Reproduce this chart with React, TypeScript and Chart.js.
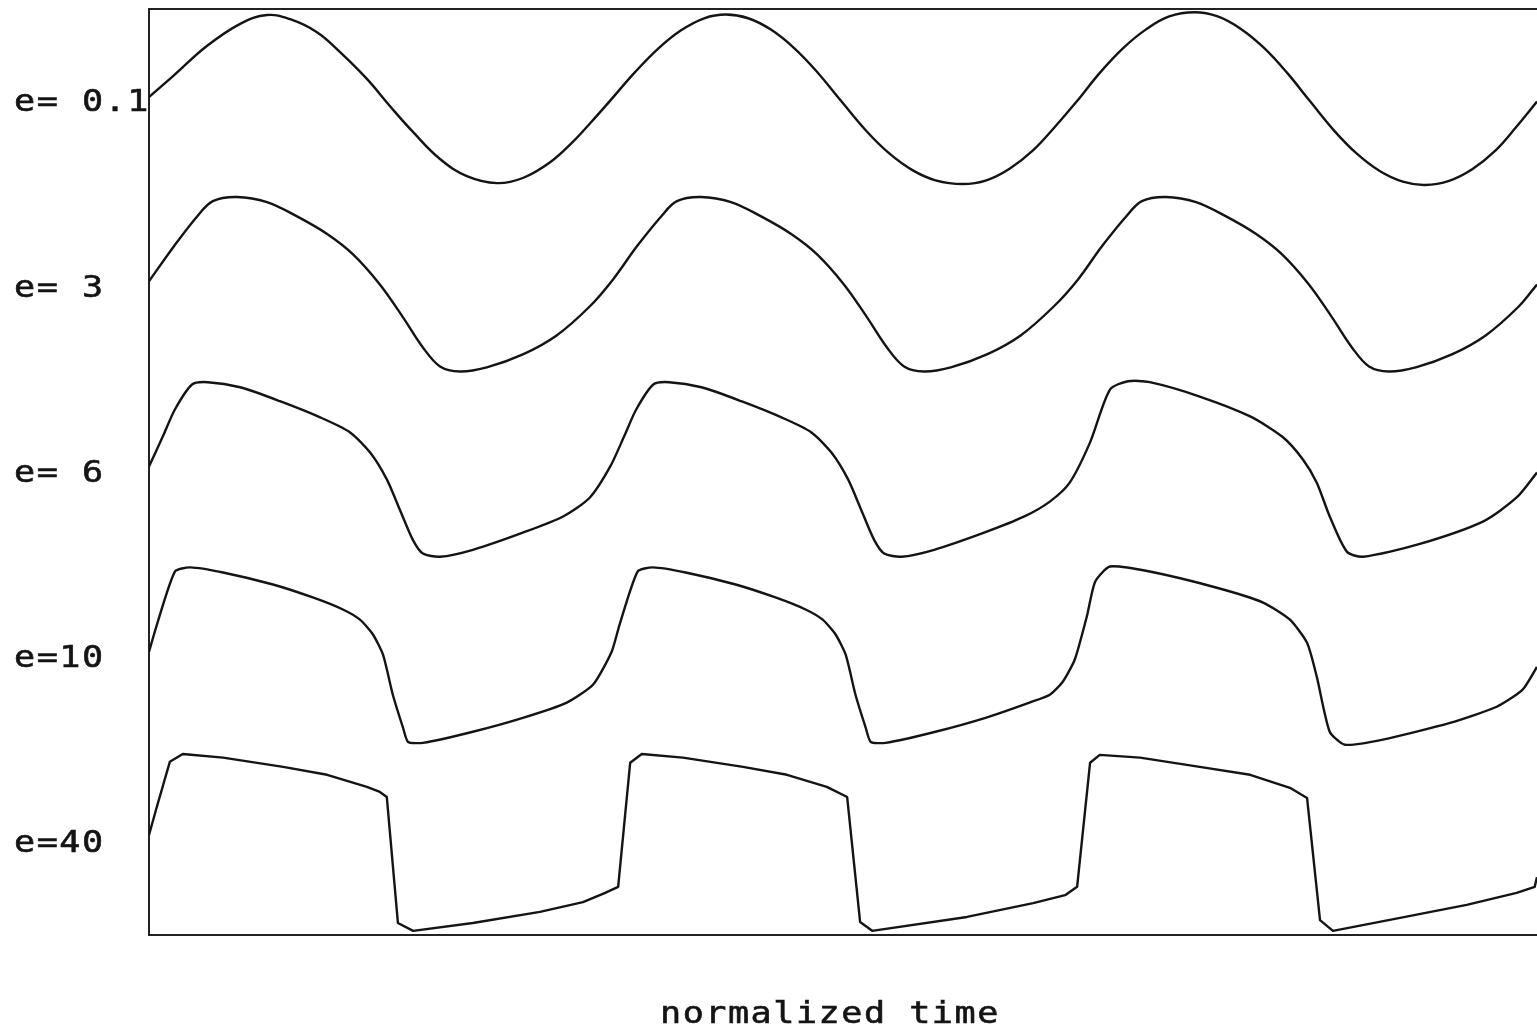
import React, { useEffect, useRef } from "react";
import { Chart, registerables } from "chart.js";

Chart.register(...registerables);

// Curve labels (left side) and the x-axis title
const seriesLabels = ["e= 0.1", "e= 3", "e= 6", "e=10", "e=40"];
const xAxisTitle = "normalized time";

// Vertical offset of each trace (traces are stacked on one plot)
const traceOffsets = [18, 14, 10, 6, 2];

// Axis ranges (normalized time, stacked amplitude)
const timeRange = [0, 30];
const amplitudeRange = [0, 20];

// Each trace: [normalized time, amplitude]
const traceE01: [number, number][] = [
  [0, 0.1], [0.52, 0.55], [1.25, 1.2], [1.97, 1.68], [2.55, 1.87], [3.05, 1.78], [3.63, 1.5], [4.13, 1.07],
  [4.71, 0.49], [5.21, -0.1], [5.71, -0.66], [6.29, -1.24], [6.87, -1.61], [7.52, -1.76], [8.08, -1.65],
  [8.67, -1.31], [9.16, -0.87], [9.55, -0.45],
  [9.95, 0.0], [10.5, 0.63], [11.0, 1.14], [11.5, 1.54], [12.0, 1.8], [12.47, 1.88], [12.95, 1.8], [13.45, 1.55],
  [13.95, 1.15], [14.45, 0.63], [14.97, 0.0], [15.5, -0.63], [16.0, -1.12], [16.5, -1.48], [17.0, -1.7],
  [17.59, -1.78], [18.1, -1.7], [18.6, -1.45], [19.1, -1.06], [19.55, -0.58],
  [20.05, 0.0], [20.55, 0.62], [21.05, 1.15], [21.55, 1.56], [22.05, 1.84], [22.6, 1.93], [23.1, 1.84], [23.6, 1.57],
  [24.1, 1.16], [24.6, 0.62], [25.1, 0.0], [25.6, -0.61], [26.1, -1.12], [26.6, -1.5], [27.1, -1.73],
  [27.58, -1.8], [28.1, -1.71], [28.6, -1.46], [29.1, -1.06], [29.55, -0.55], [30, 0.0],
];

const traceE3: [number, number][] = [
  [0, 0.12], [0.52, 0.85], [1.04, 1.52], [1.38, 1.85], [1.9, 1.94], [2.55, 1.83], [3.2, 1.52], [3.85, 1.14],
  [4.41, 0.7], [4.99, 0.05], [5.49, -0.66], [5.92, -1.31], [6.29, -1.72], [6.72, -1.83], [7.3, -1.74],
  [8.08, -1.46], [8.81, -1.05], [9.53, -0.42],
  [10.03, 0.16], [10.55, 0.88], [11.07, 1.52], [11.41, 1.85], [11.93, 1.94], [12.58, 1.83], [13.23, 1.52], [13.88, 1.14],
  [14.44, 0.7], [15.02, 0.05], [15.52, -0.66], [15.95, -1.31], [16.32, -1.72], [16.75, -1.83], [17.33, -1.74],
  [18.11, -1.46], [18.84, -1.05], [19.56, -0.42],
  [20.08, 0.16], [20.6, 0.88], [21.12, 1.52], [21.46, 1.85], [21.98, 1.94], [22.63, 1.83], [23.28, 1.52], [23.93, 1.14],
  [24.49, 0.7], [25.07, 0.05], [25.57, -0.66], [26.0, -1.31], [26.37, -1.72], [26.8, -1.83], [27.38, -1.74],
  [28.16, -1.46], [28.89, -1.05], [29.61, -0.42], [30, 0.05],
];

const traceE6: [number, number][] = [
  [0, 0.12], [0.3, 0.77], [0.56, 1.35], [0.93, 1.89], [1.27, 1.94], [1.97, 1.83], [2.83, 1.53], [3.7, 1.18],
  [4.34, 0.86], [4.78, 0.42], [5.14, -0.16], [5.42, -0.81], [5.7, -1.46], [5.92, -1.76], [6.29, -1.83],
  [7.0, -1.68], [8.08, -1.31], [8.95, -0.96], [9.53, -0.55],
  [9.97, 0.12], [10.27, 0.77], [10.53, 1.35], [10.9, 1.89], [11.24, 1.94], [11.94, 1.83], [12.8, 1.53], [13.67, 1.18],
  [14.31, 0.86], [14.75, 0.42], [15.11, -0.16], [15.39, -0.81], [15.67, -1.46], [15.89, -1.76], [16.26, -1.83],
  [16.97, -1.68], [18.05, -1.31], [18.92, -0.96],
  [19.47, -0.64], [19.9, -0.23], [20.34, 0.64], [20.77, 1.78], [21.16, 1.96], [21.63, 1.94], [22.71, 1.63],
  [23.8, 1.2], [24.51, 0.75], [24.94, 0.27], [25.24, -0.23], [25.52, -0.96], [25.89, -1.72], [26.24, -1.83],
  [27.41, -1.57], [28.83, -1.07], [29.56, -0.55], [30, -0.01],
];

const traceE10: [number, number][] = [
  [0, 0.12], [0.17, 0.7], [0.56, 1.85], [0.89, 1.94], [1.6, 1.83], [2.68, 1.57], [3.54, 1.29], [4.19, 1.03],
  [4.56, 0.81], [4.84, 0.49], [5.06, 0.05], [5.27, -0.81], [5.49, -1.52], [5.6, -1.83], [5.92, -1.85],
  [7.0, -1.61], [8.08, -1.31], [9.03, -0.98], [9.6, -0.59],
  [10.0, 0.12], [10.17, 0.7], [10.56, 1.85], [10.89, 1.94], [11.6, 1.83], [12.68, 1.57], [13.54, 1.29], [14.19, 1.03],
  [14.56, 0.81], [14.84, 0.49], [15.06, 0.05], [15.27, -0.81], [15.49, -1.52], [15.6, -1.83], [15.92, -1.85],
  [17.0, -1.61], [18.08, -1.31], [19.03, -0.98],
  [19.47, -0.81], [19.75, -0.53], [20.01, -0.05], [20.27, 0.88], [20.45, 1.63], [20.77, 1.96], [21.63, 1.85],
  [23.08, 1.5], [24.08, 1.18], [24.66, 0.81], [25.03, 0.31], [25.24, -0.42], [25.52, -1.61], [25.85, -1.89],
  [26.67, -1.78], [28.12, -1.42], [29.13, -1.07], [29.69, -0.7], [30, -0.21],
];

const traceE40: [number, number][] = [
  [0, 0.16], [0.17, 0.77], [0.45, 1.74], [0.73, 1.91], [1.6, 1.83], [2.9, 1.63], [3.85, 1.46], [4.71, 1.2],
  [4.99, 1.09], [5.14, 0.98], [5.38, -1.74], [5.71, -1.91], [7.0, -1.74], [8.45, -1.5], [9.38, -1.29],
  [9.86, -1.09], [10.14, -0.96],
  [10.4, 1.72], [10.65, 1.91], [11.54, 1.83], [12.84, 1.63], [13.79, 1.46], [14.65, 1.2], [15.09, 0.98],
  [15.37, -1.72], [15.63, -1.91], [17.68, -1.61], [19.11, -1.31], [19.8, -1.14], [20.06, -0.96],
  [20.34, 1.72], [20.55, 1.89], [21.42, 1.83], [22.71, 1.63], [23.8, 1.46], [24.66, 1.18], [25.03, 0.96],
  [25.31, -1.68], [25.59, -1.91], [27.04, -1.63], [28.48, -1.35], [29.56, -1.09], [29.95, -0.96], [30, -0.75],
];

const traces = [traceE01, traceE3, traceE6, traceE10, traceE40];
const traceTension = [0.4, 0.35, 0.25, 0.2, 0];

const INK = "#141414";
const LABEL_FONT = '30px "DejaVu Sans Mono", "Liberation Mono", monospace';

function drawStretched(ctx: CanvasRenderingContext2D, text: string, x: number, y: number) {
  ctx.save();
  ctx.translate(x, y);
  ctx.scale(1.17, 1);
  (ctx as any).letterSpacing = "1.3px";
  ctx.lineWidth = 0.6;
  ctx.strokeStyle = INK;
  ctx.fillText(text, 0, 0);
  ctx.strokeText(text, 0, 0);
  ctx.restore();
}

const framePlugin = {
  id: "plotFrame",
  beforeDatasetsDraw(chart: any) {
    const { ctx, chartArea } = chart;
    const { left, top, right, bottom } = chartArea;
    ctx.save();
    ctx.strokeStyle = "#222";
    ctx.lineWidth = 2;
    ctx.beginPath();
    ctx.moveTo(right, top);
    ctx.lineTo(left, top);
    ctx.lineTo(left, bottom);
    ctx.lineTo(right, bottom);
    ctx.stroke();
    ctx.restore();
  },
  afterDraw(chart: any) {
    const { ctx, scales } = chart;
    const yScale = scales.y;
    ctx.save();
    ctx.fillStyle = INK;
    ctx.font = LABEL_FONT;
    ctx.textAlign = "left";
    ctx.textBaseline = "middle";
    seriesLabels.forEach((lab, i) => {
      drawStretched(ctx, lab, 14, yScale.getPixelForValue(traceOffsets[i]) + 2);
    });
    ctx.textBaseline = "alphabetic";
    drawStretched(ctx, xAxisTitle, 660, 1023);
    ctx.restore();
  },
};

export default function App() {
  const canvasRef = useRef<HTMLCanvasElement | null>(null);

  useEffect(() => {
    const canvas = canvasRef.current;
    if (!canvas) return;
    const datasets = traces.map((trace, i) => ({
      label: seriesLabels[i],
      data: trace.map(([t, a]) => ({ x: t, y: traceOffsets[i] + a })),
      borderColor: INK,
      borderWidth: 2.4,
      pointRadius: 0,
      fill: false,
      tension: traceTension[i],
      borderJoinStyle: "round" as const,
    }));
    const chart = new Chart(canvas, {
      type: "line",
      data: { datasets },
      options: {
        responsive: false,
        animation: false,
        layout: { padding: { left: 149, top: 9, right: 0, bottom: 93 } },
        scales: {
          x: { type: "linear", min: timeRange[0], max: timeRange[1], display: false },
          y: { type: "linear", min: amplitudeRange[0], max: amplitudeRange[1], display: false },
        },
        plugins: {
          legend: { display: false },
          tooltip: { enabled: false },
        },
      },
      plugins: [framePlugin],
    });
    return () => chart.destroy();
  }, []);

  return (
    <div style={{ position: "fixed", left: 0, top: 0, width: 1537, height: 1028, background: "#fff" }}>
      <canvas ref={canvasRef} width={1537} height={1028} style={{ display: "block" }} />
    </div>
  );
}
